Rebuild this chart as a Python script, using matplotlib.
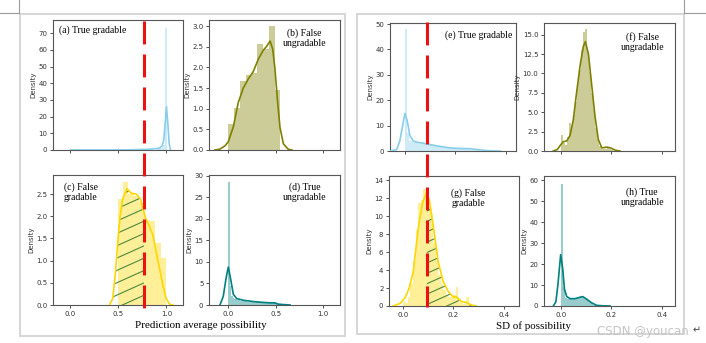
import matplotlib
matplotlib.use("Agg")
import matplotlib.pyplot as plt
import numpy as np
from matplotlib.transforms import blended_transform_factory
from matplotlib.lines import Line2D
from matplotlib.patches import Rectangle

# ---------------- data ----------------
# (a) True gradable - prediction average possibility
a_bin_start, a_bin_width = 0.905, 0.02
a_heights = [0.5, 1.0, 1.5, 3.0, 73.5]
a_kde_x = [0.0, 0.3, 0.52, 0.66, 0.80, 0.92, 0.955, 0.972, 0.986, 1.0, 1.014, 1.028, 1.042]
a_kde_y = [0.0, 0.02, 0.05, 0.2, 0.4, 1.0, 2.4, 6.0, 16.0, 26.0, 16.0, 4.0, 0.0]

# (b) False ungradable
b_bin_start, b_bin_width = 0.0, 0.061
b_heights = [0.64, 1.02, 1.66, 1.81, 1.87, 2.56, 2.44, 3.0, 1.45]
b_kde_x = [-0.14, -0.09, -0.035, 0.0, 0.053, 0.105, 0.158, 0.21, 0.263, 0.316, 0.369, 0.40,
           0.44, 0.467, 0.49, 0.516, 0.544, 0.58, 0.63, 0.67]
b_kde_y = [0, 0.02, 0.1, 0.2, 0.56, 1.15, 1.5, 1.72, 1.9, 2.2, 2.42, 2.5,
           2.64, 2.45, 2.0, 1.25, 0.55, 0.15, 0.02, 0]

# (c) False gradable
c_bin_start, c_bin_width = 0.49, 0.0565
c_heights = [2.38, 2.78, 2.5, 2.45, 2.3, 1.92, 1.9, 1.4, 1.05]
c_kde_x = [0.406, 0.441, 0.469, 0.493, 0.517, 0.545, 0.59, 0.632, 0.684, 0.726, 0.753, 0.788,
           0.823, 0.858, 0.892, 0.927, 0.962, 0.997, 1.03, 1.066]
c_kde_y = [0, 0.15, 0.75, 1.43, 2.0, 2.4, 2.62, 2.52, 2.5, 2.4, 2.18, 1.92,
           1.77, 1.58, 1.2, 0.83, 0.45, 0.15, 0.02, 0]

# (d) True ungradable
d_bin_start, d_bin_width = 0.0, 0.016
d_heights = [28.5, 4.5, 2.2, 1.6, 1.4, 1.3, 1.2, 1.1, 1.0, 1.0, 0.9, 0.9, 0.8, 0.8, 0.8, 0.7,
             0.7, 0.7, 0.6, 0.6, 0.6, 0.6, 0.5, 0.5, 0.5, 0.5, 0.5, 0.5, 0.5, 0.5, 0.5, 0.4,
             0.2, 0.1, 0.1]
d_kde_x = [-0.088, -0.053, -0.025, 0.0, 0.025, 0.053, 0.088, 0.158, 0.263, 0.368, 0.44, 0.49,
           0.526, 0.58, 0.65]
d_kde_y = [0, 2, 6, 8.8, 6, 2.5, 1.5, 1.1, 0.8, 0.6, 0.5, 0.5, 0.2, 0.1, 0]

# (e) True gradable - SD of possibility
e_bin_start, e_bin_width = 0.0, 0.008
e_heights = [48, 7.2, 4.0, 3.8, 3.6, 3.4, 3.2, 3.1, 3.0, 2.9, 2.7, 2.6, 2.5, 2.3, 2.1, 2.0,
             1.8, 1.6, 1.5, 1.3, 1.2, 1.1, 1.1, 1.0, 1.0, 1.0, 1.0, 0.9, 0.9, 0.8, 0.7, 0.6,
             0.5, 0.4, 0.3, 0.2, 0.2, 0.1, 0.1, 0.1]
e_kde_x = [-0.06, -0.033, -0.02, -0.009, 0.0, 0.009, 0.02, 0.033, 0.046, 0.066, 0.09, 0.112,
           0.139, 0.18, 0.218, 0.258, 0.284, 0.31, 0.337, 0.377]
e_kde_y = [0, 0.5, 4, 10, 14.8, 12, 6, 4, 3.5, 3.2, 2.7, 2.3, 1.8, 1.2, 1.0, 0.9, 0.6, 0.3, 0.1, 0]

# (f) False ungradable
f_bin_start, f_bin_width = 0.0, 0.008
f_heights = [2.1, 1.0, 0.8, 1.8, 3.6, 3.2, 4.6, 6.3, 8.9, 10.4, 13.0, 15.3, 15.7, 12.8, 10.2,
             7.5, 5.5, 3.0, 1.5, 0.6, 0.3, 0.2, 0.3, 0.4, 0.3, 0.1]
f_kde_x = [-0.029, -0.013, 0.0, 0.011, 0.024, 0.037, 0.05, 0.063, 0.077, 0.09, 0.098, 0.11,
           0.123, 0.136, 0.149, 0.163, 0.183, 0.198, 0.216, 0.235]
f_kde_y = [0, 0.2, 0.8, 1.2, 1.3, 2.0, 4.0, 7.5, 11, 13.5, 14.1, 12.5, 8.5, 4.5, 1.5, 0.4,
           0.5, 0.4, 0.1, 0]

# (g) False gradable
g_bin_start, g_bin_width = 0.0, 0.01
g_heights = [0.6, 0.3, 1.0, 2.5, 5.0, 8.5, 11.5, 11.8, 13.1, 12.8, 11.0, 10.2, 7.0, 5.0, 3.5,
             2.5, 1.8, 1.2, 1.0, 1.0, 1.2, 2.1, 0.5, 0.3, 0.2, 1.0, 0.1]
g_kde_x = [-0.038, -0.01, 0.01, 0.025, 0.041, 0.061, 0.078, 0.093, 0.105, 0.12, 0.14, 0.16,
           0.18, 0.2, 0.213, 0.232, 0.252, 0.272, 0.29]
g_kde_y = [0, 0.3, 1.0, 2.0, 3.8, 8.7, 11.5, 12.6, 11.8, 9.0, 4.9, 2.7, 1.6, 1.0, 1.0, 0.5,
           0.4, 0.1, 0]

# (h) True ungradable
h_bin_start, h_bin_width = 0.0, 0.008
h_heights = [58, 9, 4, 3.5, 3.2, 3.2, 3.5, 3.3, 3.8, 4.2, 4.5, 4.2, 3.5, 2.8, 2.0, 1.2, 0.7,
             0.3, 0.1]
h_kde_x = [-0.029, -0.019, -0.011, 0.0, 0.008, 0.015, 0.024, 0.037, 0.057, 0.077, 0.087,
           0.103, 0.123, 0.143, 0.169, 0.196]
h_kde_y = [0, 2, 10, 24.5, 18, 8, 4.5, 3.5, 3.5, 4.2, 4.5, 3.3, 1.5, 0.3, 0.1, 0]

threshold_mean = 0.765
threshold_sd = 0.095

labels = {
    "a": "(a) True gradable", "b": "(b) False\nungradable",
    "c": "(c) False\ngradable", "d": "(d) True\nungradable",
    "e": "(e) True gradable", "f": "(f) False\nungradable",
    "g": "(g) False\ngradable", "h": "(h) True\nungradable",
}
xlabel_left = "Prediction average possibility"
xlabel_right = "SD of possibility"

# ---------------- figure ----------------
W, H = 706, 343
fig = plt.figure(figsize=(W / 100, H / 100), dpi=100)
SERIF = "Liberation Serif"


def rect(l, t, r, b):
    return [l / W, 1 - b / H, (r - l) / W, (b - t) / H]


# panel boxes
for (l, t, r, b) in [(20, 14, 345, 336), (357, 14, 684, 334)]:
    fig.add_artist(Rectangle((l / W, 1 - b / H), (r - l) / W, (b - t) / H,
                             transform=fig.transFigure, fill=False,
                             edgecolor="#d6d6d6", lw=1.4))
# page artifacts
for xs, ys in [([19, 19], [0, 12.5]), ([0, 19], [12.5, 12.5]),
               ([684, 684], [0, 13]), ([684, 706], [13, 13])]:
    fig.add_artist(Line2D([x / W for x in xs], [1 - y / H for y in ys],
                          transform=fig.transFigure, color="#9a9a9a", lw=0.8))

specs = {
    "a": dict(r=(53, 20, 183, 150), col="#87CEEB", bs=a_bin_start, bw=a_bin_width, hs=a_heights,
              kx=a_kde_x, ky=a_kde_y, xl=(-0.182, 1.172), yl=(0, 78), yt=np.arange(0, 71, 10),
              xt=[0.0, 0.5, 1.0], lab=(0.045, 0.92, "left"), bottom=False),
    "b": dict(r=(209, 20, 340, 150), col="#808000", bs=b_bin_start, bw=b_bin_width, hs=b_heights,
              kx=b_kde_x, ky=b_kde_y, xl=(-0.203, 1.176), yl=(0, 3.15), yt=np.arange(0, 3.01, 0.5),
              xt=[0.0, 0.5, 1.0], lab=(0.73, 0.86, "center"), bottom=False),
    "c": dict(r=(53, 175, 183, 305), col="#FFD700", bs=c_bin_start, bw=c_bin_width, hs=c_heights,
              kx=c_kde_x, ky=c_kde_y, xl=(-0.182, 1.172), yl=(0, 2.93), yt=np.arange(0, 2.51, 0.5),
              xt=[0.0, 0.5, 1.0], lab=(0.085, 0.865, "left"), bottom=True),
    "d": dict(r=(209, 175, 340, 305), col="#008080", bs=d_bin_start, bw=d_bin_width, hs=d_heights,
              kx=d_kde_x, ky=d_kde_y, xl=(-0.203, 1.176), yl=(0, 30.2), yt=np.arange(0, 31, 5),
              xt=[0.0, 0.5, 1.0], lab=(0.73, 0.865, "center"), bottom=True),
    "e": dict(r=(390, 23, 516, 151), col="#87CEEB", bs=e_bin_start, bw=e_bin_width, hs=e_heights,
              kx=e_kde_x, ky=e_kde_y, xl=(-0.059, 0.44), yl=(0, 50.4), yt=np.arange(0, 51, 10),
              xt=[0.0, 0.2, 0.4], lab=(0.975, 0.905, "right"), bottom=False),
    "f": dict(r=(544, 23, 675, 151), col="#808000", bs=f_bin_start, bw=f_bin_width, hs=f_heights,
              kx=f_kde_x, ky=f_kde_y, xl=(-0.066, 0.453), yl=(0, 16.5), yt=np.arange(0, 15.1, 2.5),
              xt=[0.0, 0.2, 0.4], lab=(0.75, 0.85, "center"), bottom=False),
    "g": dict(r=(389, 176, 519, 306), col="#FFD700", bs=g_bin_start, bw=g_bin_width, hs=g_heights,
              kx=g_kde_x, ky=g_kde_y, xl=(-0.055, 0.46), yl=(0, 14.5), yt=np.arange(0, 15, 2),
              xt=[0.0, 0.2, 0.4], lab=(0.61, 0.83, "center"), bottom=True),
    "h": dict(r=(544, 176, 675, 306), col="#008080", bs=h_bin_start, bw=h_bin_width, hs=h_heights,
              kx=h_kde_x, ky=h_kde_y, xl=(-0.066, 0.453), yl=(0, 62), yt=np.arange(0, 61, 10),
              xt=[0.0, 0.2, 0.4], lab=(0.75, 0.84, "center"), bottom=True),
}

axes = {}
for key, s in specs.items():
    ax = fig.add_axes(rect(*s["r"]))
    axes[key] = ax
    n = len(s["hs"])
    lefts = s["bs"] + s["bw"] * np.arange(n)
    ax.bar(lefts, s["hs"], width=s["bw"], align="edge", color=s["col"], alpha=0.4,
           linewidth=0, zorder=1)
    ax.plot(s["kx"], s["ky"], color=s["col"], lw=1.2, zorder=4)
    ax.set_xlim(*s["xl"])
    ax.set_ylim(*s["yl"])
    ax.set_yticks(s["yt"])
    ax.set_xticks(s["xt"])
    if not s["bottom"]:
        ax.set_xticklabels([])
    ax.tick_params(length=2.5, width=0.6, labelsize=5, pad=1.5, colors="#333333")
    for sp in ax.spines.values():
        sp.set_color("#555555")
        sp.set_linewidth(0.8)
    ax.set_ylabel("Density", fontsize=5, labelpad=1.5, color="#333333")
    lx, ly, ha = s["lab"]
    ax.text(lx, ly, labels[key], transform=ax.transAxes, ha=ha, va="center",
            fontsize=7, family=SERIF, linespacing=1.15, zorder=6)


def hatch_region(ax, xs, ys, side, thr, spacing, slope, color):
    xs = np.asarray(xs, float)
    ys = np.asarray(ys, float)
    ythr = np.interp(thr, xs, ys)
    if side == "left":
        m = xs < thr
        px = np.r_[xs[m], thr]
        py = np.r_[ys[m], ythr]
    else:
        m = xs > thr
        px = np.r_[thr, xs[m]]
        py = np.r_[ythr, ys[m]]
    poly = ax.fill_between(px, py, 0, facecolor="none", edgecolor="none", zorder=2)
    path = poly.get_paths()[0]
    for c in np.arange(-1.0, 1.2, spacing):
        ln, = ax.plot([0, 1], [c, c + slope], transform=ax.transAxes,
                      color=color, lw=0.8, zorder=3)
        ln.set_clip_path(path, ax.transData)


hatch_region(axes["c"], c_kde_x, c_kde_y, "left", threshold_mean, 0.095, 0.45, "#4a8a3a")
hatch_region(axes["g"], g_kde_x, g_kde_y, "right", threshold_sd, 0.08, 0.45, "#4a8a3a")

# red dashed threshold lines spanning two rows
for key, thr, (ytop, ybot) in [("c", threshold_mean, (21, 308)), ("g", threshold_sd, (22, 307))]:
    tr = blended_transform_factory(axes[key].transData, fig.transFigure)
    fig.add_artist(Line2D([thr, thr], [1 - ytop / H, 1 - ybot / H], transform=tr,
                          color="#ee1111", lw=2.2, dashes=(7.5, 3.3), zorder=10))

fig.text(201 / W, 1 - 325 / H, xlabel_left, ha="center", va="center", fontsize=7.9, family=SERIF)
fig.text(533 / W, 1 - 326 / H, xlabel_right, ha="center", va="center", fontsize=7.9, family=SERIF)

fig.text(643 / W, 1 - 331 / H, "CSDN @youcan", ha="center", va="center", fontsize=8.5,
         color="#c4c4c4", family="DejaVu Sans")
fig.text(697 / W, 1 - 330 / H, "\u21b5", ha="center", va="center", fontsize=7,
         color="#444444", family="DejaVu Sans")

fig.savefig("out.png", dpi=100)
